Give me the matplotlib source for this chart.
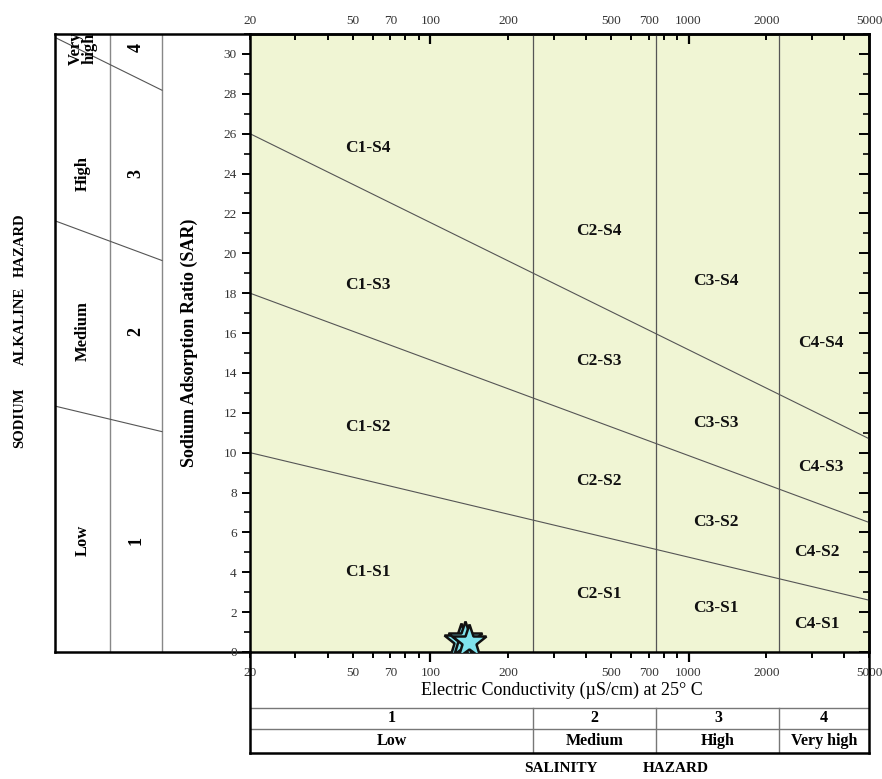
import numpy as np
import matplotlib
matplotlib.use("Agg")
import matplotlib.pyplot as plt
import matplotlib.ticker as ticker

plt.rcParams['font.family'] = ['Liberation Serif', 'DejaVu Serif']

# ---- data ----
ec_min, ec_max = 20, 5000
ec_class_bounds = [250, 750, 2250]            # C1/C2, C2/C3, C3/C4
sar_line_at_20 = [10, 18, 26]                 # S1/S2, S2/S3, S3/S4 at EC=20
sar_line_at_5000 = [2.6, 6.5, 10.7]           # same lines at EC=5000

zone_names = ['C1-S4', 'C1-S3', 'C1-S2', 'C1-S1',
              'C2-S4', 'C2-S3', 'C2-S2', 'C2-S1',
              'C3-S4', 'C3-S3', 'C3-S2', 'C3-S1',
              'C4-S4', 'C4-S3', 'C4-S2', 'C4-S1']
zone_ec = [57, 57, 57, 57,
           448, 448, 448, 448,
           1275, 1275, 1275, 1275,
           3250, 3250, 3150, 3150]
zone_sar = [25.3, 18.4, 11.3, 4.0,
            21.1, 14.6, 8.6, 2.9,
            18.6, 11.5, 6.5, 2.2,
            15.5, 9.3, 5.0, 1.4]

sample_ec = [131, 136, 141]
sample_sar = [0.55, 0.65, 0.5]

x_tick_labels = [20, 50, 70, 100, 200, 500, 700, 1000, 2000, 5000]

sal_nums = ['1', '2', '3', '4']
sal_names = ['Low', 'Medium', 'High', 'Very high']

sod_names = ['Very\nhigh', 'High', 'Medium', 'Low']
sod_nums = ['4', '3', '2', '1']
sod_label_sar = [30.3, 24.0, 16.1, 5.6]


def sar_line(ec, s20, s5000):
    f = np.log10(np.asarray(ec) / ec_min) / np.log10(ec_max / ec_min)
    return s20 + (s5000 - s20) * f


W, H = 882, 779
fig = plt.figure(figsize=(W / 100, H / 100), dpi=100)

def box(x0, y0, x1, y1):
    return [x0 / W, 1 - y1 / H, (x1 - x0) / W, (y1 - y0) / H]

# ---- left sodium hazard panel (drawn first, underneath) ----
axl = fig.add_axes(box(55, 34, 250, 652))
ec_left = ec_min * 10 ** (-195 / 257.7)
col1 = ec_min * 10 ** (-140 / 257.7)
col2 = ec_min * 10 ** (-88 / 257.7)
axl.set_xscale('log')
axl.set_xlim(ec_left, ec_min)
axl.set_ylim(0, 31)
axl.set_xticks([])
axl.set_yticks([])
axl.xaxis.set_minor_locator(ticker.NullLocator())
axl.patch.set_alpha(0)
axl.spines['right'].set_visible(False)
for s in ['left', 'top', 'bottom']:
    axl.spines[s].set_linewidth(1.8)
line_col = '#555555'
for c in [col1, col2]:
    axl.axvline(c, color='#888888', lw=1.0)
ec_l = np.array([ec_left, col2])
for s20, s5000 in zip(sar_line_at_20, sar_line_at_5000):
    axl.plot(ec_l, sar_line(ec_l, s20, s5000), color=line_col, lw=0.8)
c1x = np.sqrt(ec_left * col1)
c2x = np.sqrt(col1 * col2)
for nm, nu, ys in zip(sod_names, sod_nums, sod_label_sar):
    axl.text(c1x, ys, nm, rotation=90, ha='center', va='center', fontsize=12,
             fontweight='bold', linespacing=0.8)
    axl.text(c2x, ys, nu, rotation=90, ha='center', va='center', fontsize=13,
             fontweight='bold')

# ---- main diagram ----
ax = fig.add_axes(box(250, 34, 869, 652))
ax.set_facecolor('#f0f5d4')
ax.set_xscale('log')
ax.set_xlim(ec_min, ec_max)
ax.set_ylim(0, 31)

for b in ec_class_bounds:
    ax.axvline(b, color=line_col, lw=0.9)
ec_grid = np.array([ec_min, ec_max])
for s20, s5000 in zip(sar_line_at_20, sar_line_at_5000):
    ax.plot(ec_grid, sar_line(ec_grid, s20, s5000), color=line_col, lw=0.8)

for name, xe, ys in zip(zone_names, zone_ec, zone_sar):
    ax.text(xe, ys, name, ha='center', va='center', fontsize=12.5,
            fontweight='bold', color='#111111')

ax.plot(sample_ec, sample_sar, linestyle='none', marker='*', ms=26,
        mfc='#7fe3ee', mec='#111111', mew=1.8, zorder=5)

for sp in ax.spines.values():
    sp.set_linewidth(1.8)


def fmt(v, pos):
    for t in x_tick_labels:
        if abs(v - t) < 1e-6 * t:
            return str(t)
    return ''

ax.xaxis.set_major_locator(ticker.LogLocator(base=10, numticks=10))
ax.xaxis.set_minor_locator(ticker.LogLocator(base=10, subs=np.arange(2, 10), numticks=10))
ax.xaxis.set_major_formatter(ticker.FuncFormatter(fmt))
ax.xaxis.set_minor_formatter(ticker.FuncFormatter(fmt))
ax.tick_params(axis='x', which='major', direction='out', length=7, width=1.6,
               labelsize=9.5, labelcolor='#333333', pad=4)
ax.tick_params(axis='x', which='minor', direction='out', length=4, width=1.4,
               labelsize=9.5, labelcolor='#333333', pad=7)

top = ax.secondary_xaxis('top', functions=(lambda x: x, lambda x: x))
top.set_xscale('log')
top.xaxis.set_major_locator(ticker.LogLocator(base=10, numticks=10))
top.xaxis.set_minor_locator(ticker.LogLocator(base=10, subs=np.arange(2, 10), numticks=10))
top.xaxis.set_major_formatter(ticker.FuncFormatter(fmt))
top.xaxis.set_minor_formatter(ticker.FuncFormatter(fmt))
top.tick_params(axis='x', which='major', direction='in', length=7, width=1.6,
                labelsize=9.5, labelcolor='#333333', pad=5)
top.tick_params(axis='x', which='minor', direction='in', length=4, width=1.4,
                labelsize=9.5, labelcolor='#333333', pad=5)
top.spines['top'].set_linewidth(1.8)

ax.yaxis.set_major_locator(ticker.MultipleLocator(2))
ax.yaxis.set_minor_locator(ticker.MultipleLocator(1))
ax.yaxis.set_major_formatter(ticker.FuncFormatter(lambda v, p: '%d' % v if v <= 30 else ''))
ax.tick_params(axis='y', which='major', direction='out', length=6, width=1.4,
               labelsize=9.5, labelcolor='#333333')
ax.tick_params(axis='y', which='minor', direction='out', length=4, width=1.2)
ax.set_ylabel('Sodium Adsorption Ratio (SAR)', fontsize=13, fontweight='bold',
              labelpad=18)

right = ax.secondary_yaxis('right')
right.yaxis.set_major_locator(ticker.MultipleLocator(2))
right.yaxis.set_minor_locator(ticker.MultipleLocator(1))
right.tick_params(axis='y', which='major', direction='in', length=7, width=1.4,
                  labelright=False)
right.tick_params(axis='y', which='minor', direction='in', length=4, width=1.2)
right.spines['right'].set_linewidth(1.8)

fig.text(20 / W, 1 - 418 / H, 'SODIUM', rotation=90, ha='center', va='center',
         fontsize=10.5, fontweight='bold')
fig.text(20 / W, 1 - 326 / H, 'ALKALINE', rotation=90, ha='center', va='center',
         fontsize=10.5, fontweight='bold')
fig.text(20 / W, 1 - 245 / H, 'HAZARD', rotation=90, ha='center', va='center',
         fontsize=10.5, fontweight='bold')

# ---- bottom salinity table ----
axb = fig.add_axes(box(250, 652, 869, 753))
axb.set_xscale('log')
axb.set_xlim(ec_min, ec_max)
axb.set_ylim(101, 0)
axb.set_xticks([])
axb.set_yticks([])
axb.xaxis.set_minor_locator(ticker.NullLocator())
axb.patch.set_alpha(0)
axb.spines['top'].set_visible(False)
for s in ['left', 'right', 'bottom']:
    axb.spines[s].set_linewidth(1.8)
axb.axhline(56, color='#777777', lw=1.0)
axb.axhline(77, color='#777777', lw=1.0)
for b in ec_class_bounds:
    axb.plot([b, b], [56, 101], color='#777777', lw=1.0)
edges = [ec_min] + ec_class_bounds + [ec_max]
for i in range(4):
    xc = np.sqrt(edges[i] * edges[i + 1])
    axb.text(xc, 66.5, sal_nums[i], ha='center', va='center', fontsize=11.5,
             fontweight='bold')
    axb.text(xc, 89, sal_names[i], ha='center', va='center', fontsize=11.5,
             fontweight='bold')
axb.text(np.sqrt(ec_min * ec_max) * 1.02, 38, 'Electric Conductivity (\u00b5S/cm) at 25\u00b0 C',
         ha='center', va='center', fontsize=13)

fig.text(561 / W, 1 - 769 / H, 'SALINITY', ha='center', va='center',
         fontsize=11, fontweight='bold')
fig.text(676 / W, 1 - 769 / H, 'HAZARD', ha='center', va='center',
         fontsize=11, fontweight='bold')

fig.savefig('out.png', dpi=100)
